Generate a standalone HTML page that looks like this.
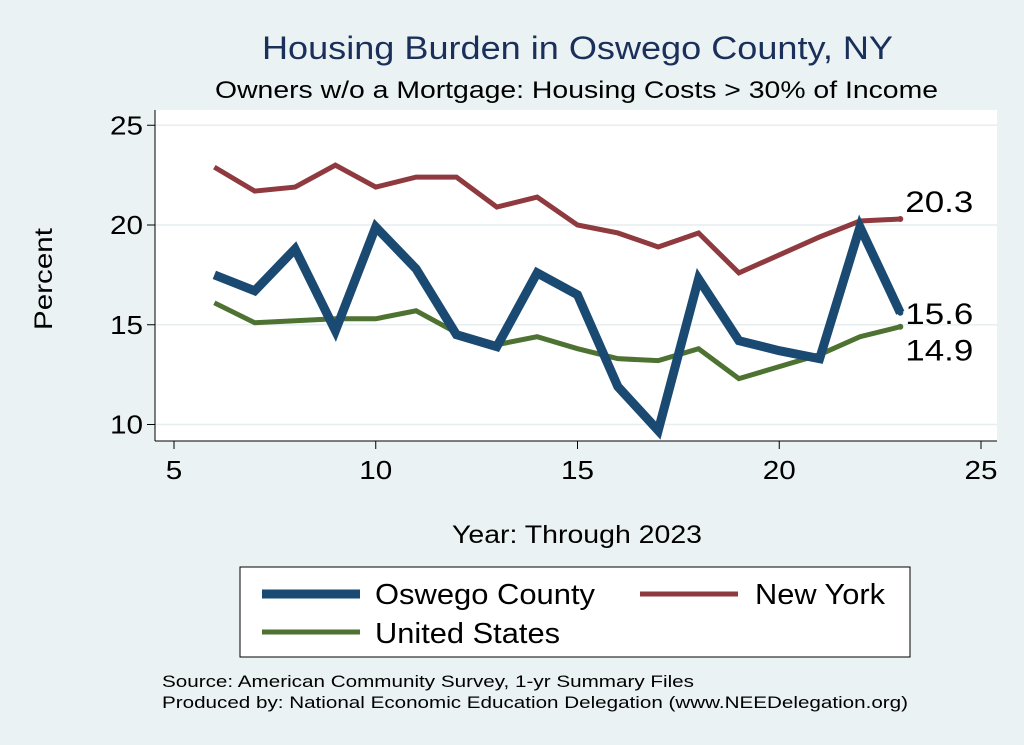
<!DOCTYPE html>
<html><head><meta charset="utf-8"><style>
body{margin:0;background:#eaf2f3;}
svg{display:block;font-family:"Liberation Sans",Arial,sans-serif;}
</style></head><body>
<svg id="c" width="1024" height="745">
<rect width="1024" height="745" fill="#eaf2f3"/>
<text x="262" y="59" font-size="32" textLength="631" lengthAdjust="spacingAndGlyphs" fill="#1a2f5a">Housing Burden in Oswego County, NY</text>
<text x="215" y="98" font-size="24" textLength="723" lengthAdjust="spacingAndGlyphs" fill="#000">Owners w/o a Mortgage: Housing Costs &gt; 30% of Income</text>
<rect x="155" y="110" width="842" height="331" fill="#fff"/>
<g id="grid"></g><g id="axes"></g><g id="series"></g>
<text x="52" y="279" text-anchor="middle" font-size="25" textLength="102" lengthAdjust="spacingAndGlyphs" transform="rotate(-90 52 279)">Percent</text>
<text x="452" y="543" font-size="25" textLength="250" lengthAdjust="spacingAndGlyphs">Year: Through 2023</text>
<g>
<rect x="240" y="567" width="670" height="90" fill="#fff" stroke="#000" stroke-width="1"/>
<line x1="262" y1="594" x2="360" y2="594" stroke="#1a4a72" stroke-width="9"/>
<text x="375" y="604" font-size="29" textLength="220" lengthAdjust="spacingAndGlyphs">Oswego County</text>
<line x1="640" y1="594" x2="738" y2="594" stroke="#8f3a3f" stroke-width="5"/>
<text x="755" y="604" font-size="29" textLength="130" lengthAdjust="spacingAndGlyphs">New York</text>
<line x1="262" y1="632" x2="360" y2="632" stroke="#4e7232" stroke-width="5"/>
<text x="375" y="643" font-size="29" textLength="185" lengthAdjust="spacingAndGlyphs">United States</text>
</g>
<text x="162" y="687" font-size="17" textLength="532" lengthAdjust="spacingAndGlyphs">Source: American Community Survey, 1-yr Summary Files</text>
<text x="162" y="708" font-size="17" textLength="746" lengthAdjust="spacingAndGlyphs">Produced by: National Economic Education Delegation (www.NEEDelegation.org)</text>
</svg>
<script>
const years=[6,7,8,9,10,11,12,13,14,15,16,17,18,19,20,21,22,23];
const oswego=[17.5,16.7,18.8,14.7,19.9,17.8,14.5,13.9,17.6,16.5,11.9,9.7,17.3,14.2,13.7,13.3,19.9,15.6];
const newYork=[22.9,21.7,21.9,23.0,21.9,22.4,22.4,20.9,21.4,20.0,19.6,18.9,19.6,17.6,18.5,19.4,20.2,20.3];
const unitedStates=[16.1,15.1,15.2,15.3,15.3,15.7,14.6,14.0,14.4,13.8,13.3,13.2,13.8,12.3,12.9,13.5,14.4,14.9];
const xTicks=[5,10,15,20,25];
const yTicks=[10,15,20,25];
const X=v=>174+(v-5)*40.35;
const Y=v=>424.5-(v-10)*19.95;
const NS="http://www.w3.org/2000/svg";
function mk(t,a,p){const e=document.createElementNS(NS,t);for(const k in a)e.setAttribute(k,a[k]);p.appendChild(e);return e;}
const g=document.getElementById('grid'),ax=document.getElementById('axes'),s=document.getElementById('series');
function tl(str){return String(str).length*16.5;}
yTicks.forEach(v=>{
 const l=mk('line',{x1:155,x2:997,y1:Y(v),y2:Y(v),stroke:'#e6eeef','stroke-width':1.5},g);
 
 
 const t=mk('line',{x1:147,x2:155,y1:Y(v),y2:Y(v),stroke:'#000'},ax);
 
 
 const tx=mk('text',{x:143-tl(v),y:Y(v)+9,'font-size':26,textLength:tl(v),lengthAdjust:'spacingAndGlyphs'},ax);tx.textContent=v;
 
 
});
mk('line',{x1:155,x2:155,y1:110,y2:441,stroke:'#000'},ax);
mk('line',{x1:155,x2:997,y1:441,y2:441,stroke:'#000'},ax);
xTicks.forEach(v=>{
 const t=mk('line',{x1:X(v),x2:X(v),y1:441,y2:449,stroke:'#000'},ax);
 
 
 const tx=mk('text',{x:X(v)-tl(v)/2,y:479,'font-size':26,textLength:tl(v),lengthAdjust:'spacingAndGlyphs'},ax);tx.textContent=v;
 
 
});
function line(vals,color,w,name){
 const p=mk('polyline',{points:vals.map((v,i)=>X(years[i])+','+Y(v)).join(' '),fill:'none',stroke:color,'stroke-width':w,'stroke-linejoin':'miter'},s);
 
 
 const last=vals[vals.length-1];
 const d=mk('circle',{cx:X(years[years.length-1]),cy:Y(last),r:3,fill:color},s);
 
 
}
line(newYork,'#8f3a3f',5,'new-york-line');
line(unitedStates,'#4e7232',5,'united-states-line');
line(oswego,'#1a4a72',9,'oswego-line');
const lx=X(23)+5;
[[newYork,-7,'ny-end-label'],[oswego,11,'oswego-end-label'],[unitedStates,34,'us-end-label']].forEach(([v,dy,n])=>{
 const t=mk('text',{x:lx,y:Y(v[v.length-1])+dy,'font-size':30,textLength:68,lengthAdjust:'spacingAndGlyphs'},s);t.textContent=v[v.length-1].toFixed(1);
 
 
});
</script>
</body></html>
